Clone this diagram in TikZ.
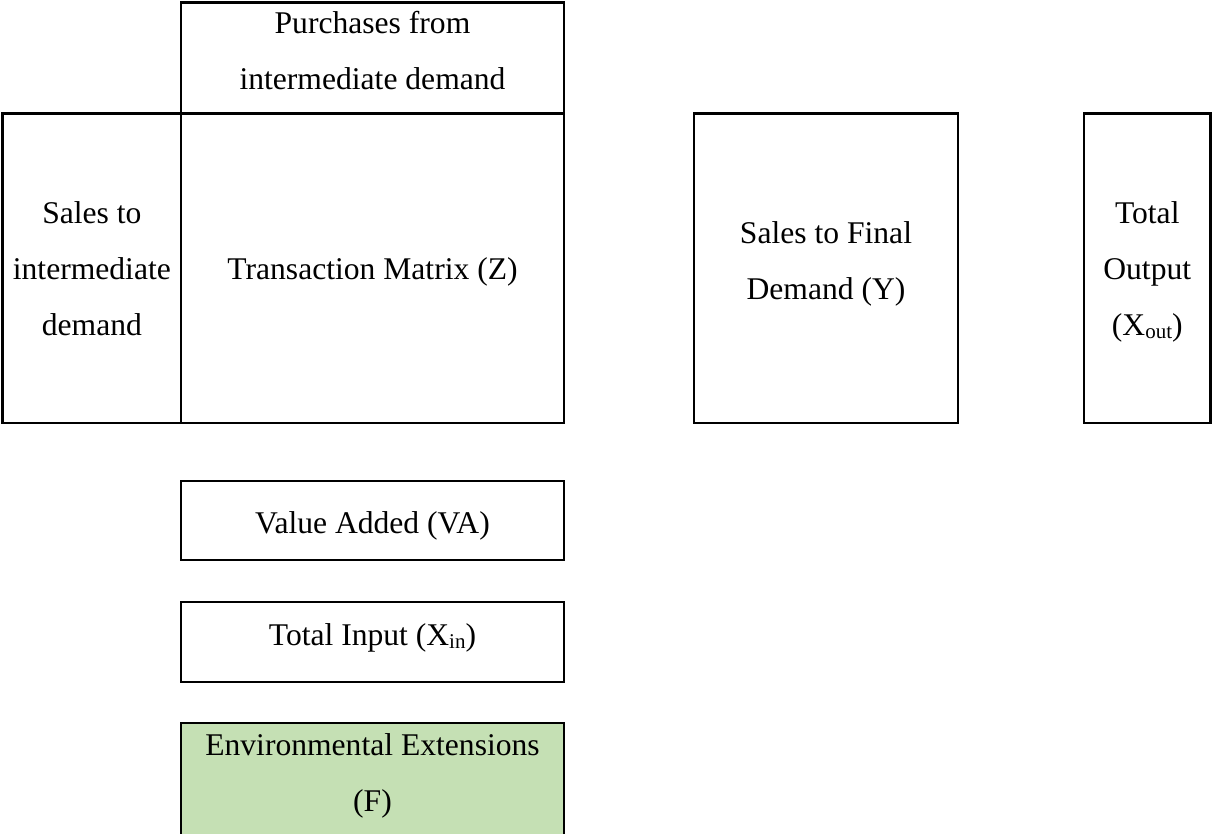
\documentclass[tikz,border=0pt]{standalone}
\usepackage{fontspec}
\setmainfont{Liberation Serif}
\definecolor{envgreen}{HTML}{C5E0B4}
% lowered, smaller subscript text as in X_out / X_in
\newcommand\lowsub[1]{\raisebox{-3.5pt}{\fontsize{21}{21}\selectfont #1}}
\begin{document}
\begin{tikzpicture}[x=1pt,y=-1pt,
  cell/.style={draw=black, line width=2.6pt, rectangle, inner sep=0pt},
  celltext/.style={anchor=north, inner sep=0pt, align=center,
    font=\fontsize{31.6}{56}\selectfont}]
\useasboundingbox (0,0) rectangle (1212,834);
\clip (0,0) rectangle (1212,834);
\fill[white] (0,0) rectangle (1212,834);

% cells of the input-output table
\node[cell, minimum width=383pt, minimum height=110.8pt] (purch) at (372.5,58.1) {};
\node[cell, minimum width=178.3pt, minimum height=309.5pt] (sales) at (91.85,268.25) {};
\node[cell, minimum width=383pt, minimum height=309.5pt] (zmat) at (372.5,268.25) {};
\node[cell, minimum width=264pt, minimum height=309.5pt] (final) at (826,268.25) {};
\node[cell, minimum width=126.5pt, minimum height=309.5pt] (xout) at (1147.25,268.25) {};
\node[cell, minimum width=383pt, minimum height=79pt] (va) at (372.5,520.5) {};
\node[cell, minimum width=383pt, minimum height=80pt] (xin) at (372.5,642) {};
\node[cell, fill=envgreen, minimum width=383pt, minimum height=137pt] (env) at (372.5,791.5) {};

% cell texts (north = first baseline - 0.7 baselineskip)
\node[celltext] (tpurch) at (372.5,-6.2) {\strut Purchases from\\\strut intermediate demand};
\node[celltext] (tsales) at (91.85,183.8) {\strut Sales to\\\strut intermediate\\\strut demand};
\node[celltext] (tzmat) at (372.5,239.8) {\strut Transaction Matrix (Z)};
\node[celltext] (tfinal) at (826,204.3) {\strut Sales to Final\\\strut Demand (Y)};
\node[celltext] (txout) at (1147.25,183.8) {\strut Total\\\strut Output\\\strut (X\lowsub{out})};
\node[celltext] (tva) at (372.5,493.8) {\strut Value Added (VA)};
\node[celltext] (txin) at (372.5,605.8) {\strut Total Input (X\lowsub{in})};
\node[celltext] (tenv) at (372.5,715.8) {\strut Environmental Extensions\\\strut (F)};
\end{tikzpicture}
\end{document}
